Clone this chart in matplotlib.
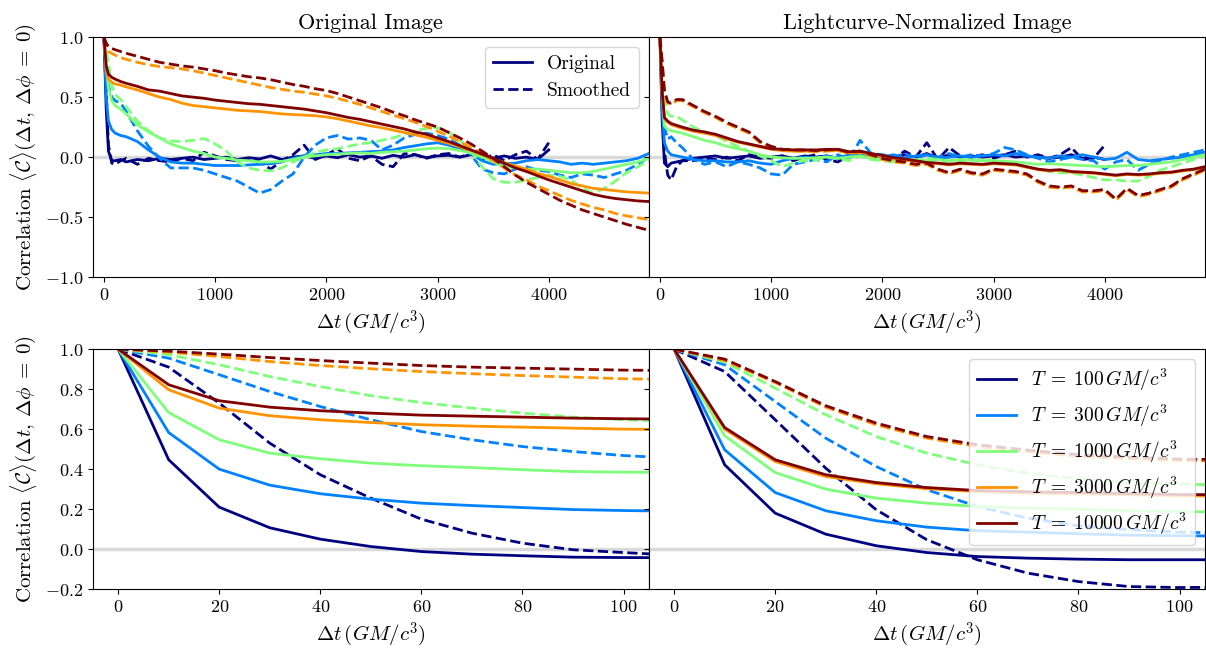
import numpy as np
import matplotlib
matplotlib.use("Agg")
import matplotlib.pyplot as plt
from matplotlib.lines import Line2D

plt.rcParams.update({
    "font.family": "serif",
    "font.serif": ["cmr10"],
    "mathtext.fontset": "cm",
    "axes.formatter.use_mathtext": True,
    "axes.unicode_minus": True,
})

# ---------------------------------------------------------------- data
periods = [100, 300, 1000, 3000, 10000]

# long-lag grid (GM/c^3) for the upper panels
dt_long = [0, 20, 40, 70, 100, 150, 200,
           300, 400, 500, 600, 700, 800, 900, 1000,
           1100, 1200, 1300, 1400, 1500, 1600, 1700, 1800, 1900, 2000,
           2100, 2200, 2300, 2400, 2500, 2600, 2700, 2800, 2900, 3000,
           3100, 3200, 3300, 3400, 3500, 3600, 3700, 3800, 3900, 4000,
           4100, 4200, 4300, 4400, 4500, 4600, 4700, 4800, 4900]

# short-lag grid (GM/c^3) for the lower panels
dt_short = [0, 10, 20, 30, 40, 50, 60, 70, 80, 90, 100, 110]

# --- original image, long lags
img_orig_100 = [1.0, 0.40, 0.05, -0.03, -0.03, -0.02, -0.04,
                -0.02, -0.03, -0.01, -0.02, -0.01, 0.0, -0.02, -0.01,
                0.0, -0.02, -0.005, -0.015, 0.01,
                -0.02, 0.0, 0.01, -0.01, 0.01,
                -0.005, 0.02, 0.0, 0.01, -0.01,
                0.015, 0.0, 0.02, -0.005, 0.01,
                0.015, 0.0, 0.02, 0.01, -0.01,
                0.01, -0.01, 0.0, -0.02, 0.06]
img_smooth_100 = [1.0, 0.55, 0.10, -0.05, -0.06, -0.03, -0.01,
                  -0.06, -0.01, -0.03, -0.04, -0.01, -0.03, 0.04, 0.01,
                  -0.02, -0.03, -0.01, -0.04, -0.10,
                  -0.03, 0.02, 0.10, -0.02, 0.02,
                  0.07, -0.01, -0.03, 0.01, -0.06,
                  -0.08, 0.03, 0.02, -0.01, 0.02,
                  0.03, 0.0, 0.03, -0.02, 0.02,
                  -0.03, 0.02, 0.05, -0.02, 0.12]
img_orig_300 = [1.0, 0.50, 0.30, 0.23, 0.20, 0.18, 0.17,
                0.13, 0.06, 0.0, -0.04, -0.05, -0.05, -0.06, -0.07,
                -0.07, -0.07, -0.065, -0.06, -0.055,
                -0.04, -0.01, 0.01, 0.02, 0.03,
                0.03, 0.035, 0.04, 0.045, 0.05,
                0.06, 0.08, 0.095, 0.11, 0.12,
                0.10, 0.07, 0.03, -0.03, -0.06,
                -0.055, -0.05, -0.03, -0.02, -0.03,
                -0.04, -0.06, -0.05, -0.06, -0.05,
                -0.04, -0.03, -0.01, 0.03]
img_smooth_300 = [1.0, 0.72, 0.60, 0.50, 0.47, 0.45, 0.38,
                  0.22, 0.09, -0.01, -0.09, -0.09, -0.09, -0.11, -0.14,
                  -0.17, -0.20, -0.25, -0.30, -0.27,
                  -0.20, -0.14, 0.0, 0.10, 0.16,
                  0.18, 0.15, 0.16, 0.14, 0.06,
                  0.10, 0.16, 0.19, 0.20, 0.18,
                  0.15, 0.10, 0.02, -0.10, -0.13,
                  -0.14, -0.10, -0.08, -0.11, -0.12,
                  -0.15, -0.17, -0.14, -0.15, -0.17,
                  -0.14, -0.11, -0.06, 0.0]
img_orig_1000 = [1.0, 0.75, 0.58, 0.47, 0.43, 0.40, 0.36,
                 0.27, 0.21, 0.16, 0.11, 0.08, 0.05, 0.03, 0.0,
                 -0.01, -0.025, -0.03, -0.04, -0.04,
                 -0.035, -0.02, 0.0, 0.01, 0.02,
                 0.025, 0.03, 0.035, 0.03, 0.04,
                 0.045, 0.05, 0.06, 0.07, 0.075,
                 0.07, 0.055, 0.035, 0.0, -0.04,
                 -0.08, -0.09, -0.10, -0.10, -0.11,
                 -0.12, -0.13, -0.13, -0.12, -0.10,
                 -0.08, -0.06, -0.04, -0.01]
img_smooth_1000 = [1.0, 0.90, 0.78, 0.60, 0.52, 0.48, 0.42,
                   0.30, 0.22, 0.16, 0.135, 0.13, 0.14, 0.155, 0.11,
                   0.05, -0.04, -0.09, -0.11, -0.115,
                   -0.09, -0.04, 0.0, 0.04, 0.06,
                   0.07, 0.09, 0.11, 0.12, 0.14,
                   0.16, 0.19, 0.22, 0.24, 0.245,
                   0.21, 0.14, 0.05, -0.08, -0.18,
                   -0.21, -0.21, -0.19, -0.17, -0.15,
                   -0.16, -0.19, -0.26, -0.30, -0.26,
                   -0.20, -0.13, -0.08, -0.03]
img_orig_3000 = [1.0, 0.72, 0.65, 0.625, 0.61, 0.60, 0.585,
                 0.56, 0.53, 0.50, 0.48, 0.45, 0.43, 0.42, 0.41,
                 0.40, 0.39, 0.385, 0.38, 0.37,
                 0.36, 0.355, 0.35, 0.345, 0.335,
                 0.32, 0.30, 0.28, 0.26, 0.245,
                 0.225, 0.205, 0.185, 0.165, 0.14,
                 0.115, 0.085, 0.055, 0.02, -0.015,
                 -0.045, -0.075, -0.10, -0.135, -0.16,
                 -0.19, -0.22, -0.24, -0.26, -0.27,
                 -0.28, -0.29, -0.295, -0.30]
img_smooth_3000 = [1.0, 0.92, 0.88, 0.865, 0.85, 0.83, 0.815,
                   0.79, 0.77, 0.755, 0.745, 0.735, 0.72, 0.70, 0.68,
                   0.66, 0.64, 0.62, 0.60, 0.58,
                   0.565, 0.55, 0.54, 0.525, 0.51,
                   0.49, 0.465, 0.44, 0.41, 0.38,
                   0.35, 0.32, 0.29, 0.255, 0.215,
                   0.175, 0.13, 0.08, 0.03, -0.03,
                   -0.09, -0.15, -0.19, -0.24, -0.28,
                   -0.32, -0.36, -0.39, -0.42, -0.44,
                   -0.47, -0.49, -0.505, -0.52]
img_orig_10000 = [1.0, 0.76, 0.69, 0.665, 0.65, 0.63, 0.615,
                  0.59, 0.56, 0.55, 0.53, 0.51, 0.50, 0.49, 0.475,
                  0.465, 0.455, 0.445, 0.44, 0.43,
                  0.42, 0.41, 0.40, 0.385, 0.37,
                  0.35, 0.33, 0.315, 0.295, 0.275,
                  0.255, 0.235, 0.21, 0.19, 0.16,
                  0.13, 0.095, 0.06, 0.025, -0.01,
                  -0.05, -0.09, -0.12, -0.155, -0.19,
                  -0.22, -0.25, -0.28, -0.31, -0.33,
                  -0.345, -0.355, -0.365, -0.37]
img_smooth_10000 = [1.0, 0.95, 0.92, 0.905, 0.895, 0.88, 0.865,
                    0.84, 0.815, 0.79, 0.775, 0.76, 0.75, 0.735, 0.72,
                    0.70, 0.685, 0.67, 0.66, 0.645,
                    0.625, 0.605, 0.59, 0.57, 0.555,
                    0.53, 0.50, 0.47, 0.44, 0.41,
                    0.375, 0.345, 0.31, 0.28, 0.25,
                    0.205, 0.16, 0.11, 0.05, -0.01,
                    -0.08, -0.15, -0.21, -0.26, -0.31,
                    -0.36, -0.40, -0.44, -0.47, -0.50,
                    -0.53, -0.56, -0.585, -0.61]

# --- lightcurve-normalized image, long lags
lcn_orig_100 = [1.0, 0.30, -0.05, -0.08, -0.05, -0.04, -0.03,
                -0.01, 0.0, 0.01, -0.01, 0.0, 0.01, -0.01, 0.0,
                0.01, -0.01, 0.01, 0.0, 0.01,
                -0.01, 0.0, 0.02, 0.0, 0.01,
                -0.01, 0.02, 0.0, 0.03, -0.01,
                0.02, 0.0, 0.01, 0.0, 0.01,
                0.02, 0.0, 0.01, 0.0, -0.01,
                0.0, 0.02, -0.01, 0.0, -0.02]
lcn_smooth_100 = [1.0, 0.55, 0.05, -0.15, -0.19, -0.08, -0.03,
                  -0.03, -0.01, -0.02, 0.0, -0.03, 0.02, 0.0, -0.01,
                  0.01, -0.03, 0.0, 0.02, -0.02,
                  -0.04, 0.01, 0.02, -0.01, 0.01,
                  -0.02, 0.05, 0.0, 0.12, -0.02,
                  0.08, 0.01, 0.0, 0.02, -0.01,
                  0.02, 0.05, 0.0, 0.02, -0.01,
                  0.02, 0.08, -0.02, -0.01, 0.10]
lcn_orig_300 = [1.0, 0.40, 0.12, 0.05, 0.02, 0.01, 0.0,
                -0.02, -0.03, -0.03, -0.04, -0.04, -0.03, -0.05, -0.06,
                -0.03, -0.01, 0.0, -0.01, 0.01,
                -0.01, 0.02, 0.03, 0.01, 0.0,
                0.02, -0.01, 0.01, 0.02, -0.01,
                0.0, 0.01, 0.0, 0.01, 0.02,
                0.01, 0.03, 0.01, 0.0, -0.01,
                0.01, 0.0, 0.02, 0.0, -0.02,
                -0.01, 0.04, -0.02, -0.03, -0.02,
                -0.01, 0.0, 0.02, 0.04]
lcn_smooth_300 = [1.0, 0.60, 0.25, 0.15, 0.17, 0.12, 0.08,
                  -0.02, -0.06, -0.04, -0.08, -0.04, -0.06, -0.09, -0.14,
                  -0.15, -0.06, -0.04, -0.02, -0.04,
                  0.02, -0.02, 0.14, 0.03, 0.02,
                  0.0, 0.03, -0.01, 0.02, 0.0,
                  0.03, 0.0, 0.02, 0.01, 0.03,
                  0.08, 0.06, 0.02, -0.01, -0.04,
                  -0.02, 0.0, -0.02, -0.03, -0.10,
                  -0.04, -0.02, -0.11, -0.06, -0.03,
                  0.0, 0.02, 0.04, 0.06]
lcn_orig_1000 = [1.0, 0.55, 0.26, 0.23, 0.22, 0.21, 0.20,
                 0.17, 0.14, 0.12, 0.09, 0.07, 0.05, 0.02, 0.0,
                 -0.005, -0.01, -0.01, -0.005, 0.0,
                 -0.01, 0.0, 0.01, -0.01, -0.02,
                 -0.02, -0.025, -0.02, -0.03, -0.02,
                 -0.03, -0.02, -0.025, -0.03, -0.03,
                 -0.035, -0.04, -0.05, -0.06, -0.055,
                 -0.06, -0.065, -0.07, -0.075, -0.08,
                 -0.075, -0.07, -0.07, -0.06, -0.05,
                 -0.04, -0.02, 0.0, 0.02]
lcn_smooth_1000 = [1.0, 0.75, 0.48, 0.36, 0.34, 0.34, 0.31,
                   0.25, 0.21, 0.18, 0.13, 0.09, 0.05, 0.01, -0.03,
                   -0.08, -0.05, -0.03, -0.025, 0.0,
                   -0.01, -0.03, 0.01, -0.02, -0.03,
                   -0.04, -0.02, -0.03, -0.01, -0.02,
                   -0.05, -0.04, -0.03, -0.02, -0.03,
                   -0.04, -0.06, -0.08, -0.10, -0.12,
                   -0.13, -0.13, -0.15, -0.17, -0.19,
                   -0.19, -0.20, -0.20, -0.16, -0.11,
                   -0.08, -0.05, -0.02, 0.01]
lcn_orig_3000 = [1.0, 0.52, 0.32, 0.29, 0.27, 0.255, 0.24,
                 0.215, 0.20, 0.18, 0.15, 0.125, 0.105, 0.085, 0.065,
                 0.055, 0.05, 0.05, 0.055, 0.055,
                 0.055, 0.035, 0.04, 0.02, 0.005,
                 -0.015, -0.025, -0.035, -0.05, -0.055,
                 -0.065, -0.055, -0.06, -0.065, -0.055,
                 -0.06, -0.065, -0.085, -0.105, -0.115,
                 -0.11, -0.125, -0.13, -0.135, -0.145,
                 -0.155, -0.145, -0.15, -0.145, -0.135,
                 -0.13, -0.115, -0.105, -0.085]
lcn_smooth_3000 = [1.0, 0.78, 0.55, 0.45, 0.44, 0.47, 0.47,
                   0.42, 0.37, 0.33, 0.28, 0.24, 0.20, 0.12, 0.08,
                   0.055, 0.05, 0.05, 0.045, 0.05,
                   0.055, 0.03, 0.04, 0.01, -0.02,
                   -0.04, -0.05, -0.07, -0.06, -0.11,
                   -0.14, -0.11, -0.14, -0.15, -0.11,
                   -0.12, -0.13, -0.15, -0.21, -0.25,
                   -0.26, -0.25, -0.29, -0.29, -0.28,
                   -0.36, -0.27, -0.33, -0.31, -0.28,
                   -0.25, -0.19, -0.15, -0.11]
lcn_orig_10000 = [1.0, 0.55, 0.33, 0.30, 0.28, 0.265, 0.25,
                  0.225, 0.21, 0.19, 0.16, 0.13, 0.11, 0.09, 0.07,
                  0.065, 0.06, 0.06, 0.06, 0.065,
                  0.065, 0.045, 0.05, 0.03, 0.015,
                  -0.005, -0.015, -0.03, -0.045, -0.05,
                  -0.06, -0.05, -0.055, -0.06, -0.05,
                  -0.055, -0.06, -0.08, -0.10, -0.11,
                  -0.105, -0.12, -0.125, -0.13, -0.14,
                  -0.15, -0.14, -0.145, -0.14, -0.13,
                  -0.125, -0.11, -0.10, -0.08]
lcn_smooth_10000 = [1.0, 0.80, 0.56, 0.46, 0.45, 0.48, 0.48,
                    0.43, 0.38, 0.34, 0.29, 0.25, 0.21, 0.13, 0.09,
                    0.065, 0.06, 0.06, 0.055, 0.06,
                    0.065, 0.04, 0.05, 0.02, -0.01,
                    -0.03, -0.04, -0.06, -0.05, -0.10,
                    -0.13, -0.10, -0.13, -0.14, -0.10,
                    -0.11, -0.12, -0.14, -0.20, -0.24,
                    -0.25, -0.24, -0.28, -0.28, -0.27,
                    -0.35, -0.26, -0.32, -0.30, -0.27,
                    -0.24, -0.18, -0.14, -0.10]

# --- original image, short lags
img_short_orig_100 = [1.0, 0.447, 0.21, 0.107, 0.05, 0.013, -0.012, -0.025, -0.033, -0.04, -0.042, -0.043]
img_short_orig_300 = [1.0, 0.583, 0.40, 0.32, 0.277, 0.25, 0.23, 0.218, 0.208, 0.198, 0.193, 0.19]
img_short_orig_1000 = [1.0, 0.683, 0.547, 0.48, 0.452, 0.43, 0.417, 0.408, 0.397, 0.388, 0.385, 0.383]
img_short_orig_3000 = [1.0, 0.797, 0.705, 0.667, 0.647, 0.633, 0.622, 0.615, 0.61, 0.605, 0.60, 0.598]
img_short_orig_10000 = [1.0, 0.822, 0.742, 0.71, 0.692, 0.68, 0.67, 0.665, 0.66, 0.655, 0.652, 0.65]
img_short_smooth_100 = [1.0, 0.91, 0.73, 0.53, 0.372, 0.255, 0.15, 0.08, 0.03, -0.003, -0.017, -0.03]
img_short_smooth_300 = [1.0, 0.955, 0.872, 0.788, 0.713, 0.647, 0.588, 0.547, 0.513, 0.488, 0.468, 0.455]
img_short_smooth_1000 = [1.0, 0.972, 0.922, 0.863, 0.813, 0.767, 0.733, 0.705, 0.68, 0.66, 0.647, 0.64]
img_short_smooth_3000 = [1.0, 0.985, 0.963, 0.938, 0.918, 0.902, 0.888, 0.877, 0.868, 0.86, 0.852, 0.848]
img_short_smooth_10000 = [1.0, 0.99, 0.975, 0.958, 0.943, 0.93, 0.918, 0.91, 0.905, 0.90, 0.895, 0.893]

# --- lightcurve-normalized image, short lags
lcn_short_orig_100 = [1.0, 0.422, 0.18, 0.075, 0.017, -0.017, -0.037, -0.045, -0.05, -0.053, -0.053, -0.053]
lcn_short_orig_300 = [1.0, 0.497, 0.283, 0.192, 0.142, 0.11, 0.092, 0.085, 0.077, 0.07, 0.067, 0.065]
lcn_short_orig_1000 = [1.0, 0.567, 0.383, 0.30, 0.255, 0.23, 0.213, 0.205, 0.20, 0.192, 0.188, 0.185]
lcn_short_orig_3000 = [1.0, 0.60, 0.438, 0.363, 0.327, 0.302, 0.288, 0.28, 0.277, 0.272, 0.267, 0.265]
lcn_short_orig_10000 = [1.0, 0.608, 0.447, 0.372, 0.333, 0.308, 0.293, 0.287, 0.283, 0.278, 0.273, 0.272]
lcn_short_smooth_100 = [1.0, 0.888, 0.647, 0.405, 0.197, 0.047, -0.053, -0.12, -0.162, -0.187, -0.192, -0.19]
lcn_short_smooth_300 = [1.0, 0.922, 0.738, 0.555, 0.413, 0.297, 0.213, 0.155, 0.117, 0.097, 0.085, 0.08]
lcn_short_smooth_1000 = [1.0, 0.935, 0.805, 0.672, 0.563, 0.48, 0.422, 0.38, 0.352, 0.333, 0.325, 0.32]
lcn_short_smooth_3000 = [1.0, 0.943, 0.833, 0.71, 0.622, 0.555, 0.513, 0.487, 0.463, 0.452, 0.443, 0.44]
lcn_short_smooth_10000 = [1.0, 0.95, 0.838, 0.717, 0.63, 0.563, 0.522, 0.495, 0.472, 0.46, 0.45, 0.448]

panels = {
    (0, 0): ([img_orig_100, img_orig_300, img_orig_1000, img_orig_3000, img_orig_10000],
             [img_smooth_100, img_smooth_300, img_smooth_1000, img_smooth_3000, img_smooth_10000], dt_long),
    (0, 1): ([lcn_orig_100, lcn_orig_300, lcn_orig_1000, lcn_orig_3000, lcn_orig_10000],
             [lcn_smooth_100, lcn_smooth_300, lcn_smooth_1000, lcn_smooth_3000, lcn_smooth_10000], dt_long),
    (1, 0): ([img_short_orig_100, img_short_orig_300, img_short_orig_1000, img_short_orig_3000, img_short_orig_10000],
             [img_short_smooth_100, img_short_smooth_300, img_short_smooth_1000, img_short_smooth_3000, img_short_smooth_10000], dt_short),
    (1, 1): ([lcn_short_orig_100, lcn_short_orig_300, lcn_short_orig_1000, lcn_short_orig_3000, lcn_short_orig_10000],
             [lcn_short_smooth_100, lcn_short_smooth_300, lcn_short_smooth_1000, lcn_short_smooth_3000, lcn_short_smooth_10000], dt_short),
}

# ---------------------------------------------------------------- figure
colors = plt.cm.jet(np.linspace(0, 1, len(periods)))

fig = plt.figure(figsize=(12.06, 6.51), dpi=100)
gs = fig.add_gridspec(2, 2, left=0.077, right=0.999, top=0.943, bottom=0.095,
                      wspace=0.0, hspace=0.30)
axes = np.empty((2, 2), dtype=object)
axes[0, 0] = fig.add_subplot(gs[0, 0])
axes[0, 1] = fig.add_subplot(gs[0, 1], sharey=axes[0, 0])
axes[1, 0] = fig.add_subplot(gs[1, 0])
axes[1, 1] = fig.add_subplot(gs[1, 1], sharey=axes[1, 0])

lw = 2.0
xlabel = r"$\Delta t\,(GM/c^3)$"
ylabel = r"Correlation $\langle\mathcal{C}\rangle(\Delta t,\,\Delta\phi\;=\;0)$"

for (r, c), (orig_set, smooth_set, grid) in panels.items():
    ax = axes[r, c]
    ax.axhline(0.0, color="0.85", lw=2.5, zorder=0)
    for T, col, yo, ys in zip(periods, colors, orig_set, smooth_set):
        ax.plot(grid[:len(yo)], yo, color=col, lw=lw, ls="-",
                label=rf"$T\;=\;{T}\,GM/c^3$")
        ax.plot(grid[:len(ys)], ys, color=col, lw=lw, ls="--")
    ax.set_xlabel(xlabel, fontsize=15)
    ax.tick_params(labelsize=13)
    if r == 0:
        ax.set_xlim(-100, 4900)
        ax.set_ylim(-1.0, 1.0)
        ax.set_yticks([-1.0, -0.5, 0.0, 0.5, 1.0])
        ax.set_xticks([0, 1000, 2000, 3000, 4000])
    else:
        ax.set_xlim(-5, 105)
        ax.set_ylim(-0.2, 1.0)
        ax.set_yticks([-0.2, 0.0, 0.2, 0.4, 0.6, 0.8, 1.0])
        ax.set_xticks([0, 20, 40, 60, 80, 100])
    if c == 0:
        ax.set_ylabel(ylabel, fontsize=15)
    else:
        ax.tick_params(labelleft=False)

axes[0, 0].set_title("Original Image", fontsize=16)
axes[0, 1].set_title("Lightcurve-Normalized Image", fontsize=16)

# line-style legend (solid vs dashed)
style_handles = [Line2D([], [], color=colors[0], lw=lw, ls="-"),
                 Line2D([], [], color=colors[0], lw=lw, ls="--")]
axes[0, 0].legend(style_handles, ["Original", "Smoothed"], loc="upper right",
                  fontsize=14)

# period legend
h, l = axes[1, 1].get_legend_handles_labels()
axes[1, 1].legend(h, l, loc="upper right", fontsize=14)

fig.savefig("out.png", dpi=100)
